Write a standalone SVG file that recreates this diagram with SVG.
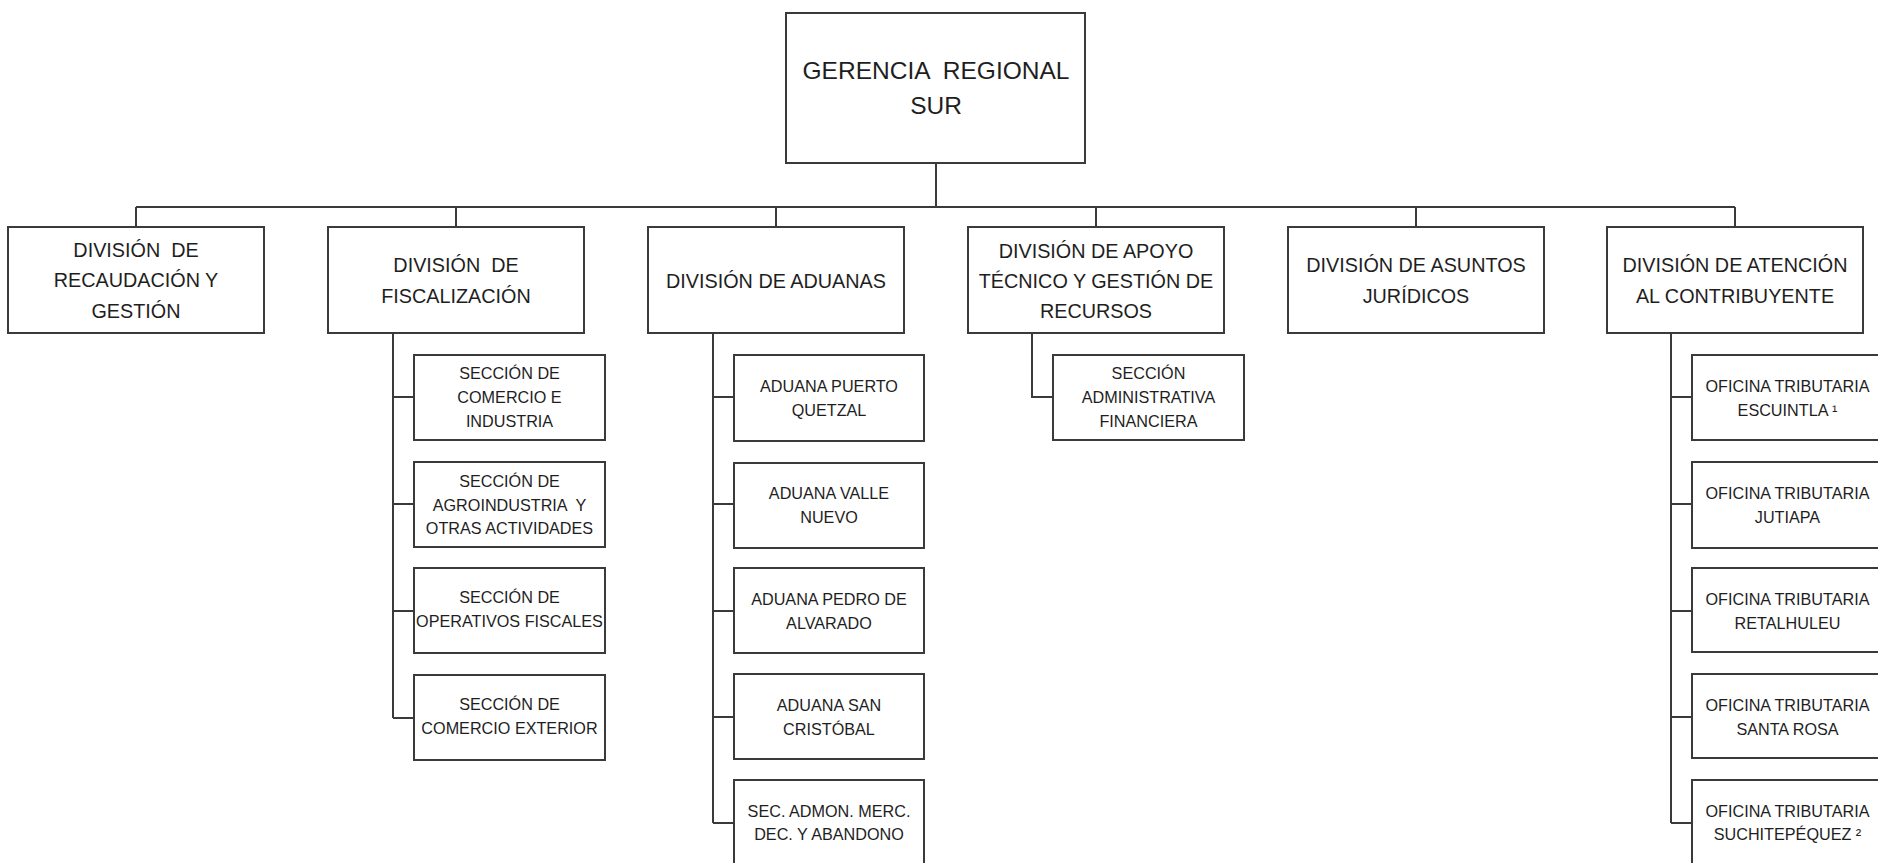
<svg xmlns="http://www.w3.org/2000/svg" width="1878" height="863" viewBox="0 0 1878 863">
<style>
  .box { fill: #ffffff; stroke: #3a3a3a; stroke-width: 2; }
  .ln { fill: none; stroke: #3a3a3a; stroke-width: 2; }
  text { font-family: "Liberation Sans", Arial, sans-serif; fill: #1e1e1e; text-anchor: middle; }
  .t0 { font-size: 24.5px; }
  .t1 { font-size: 19.8px; }
  .t2 { font-size: 16.2px; }
</style>
<rect x="0" y="0" width="1878" height="863" fill="#ffffff"/>

<g id="connectors">
  <path class="ln" d="M936 163 V207 M136 207 H1735 M136 207 V227 M456 207 V227 M776 207 V227 M1096 207 V227 M1416 207 V227 M1735 207 V227"/>
  <path class="ln" d="M393 333 V718 M393 397 H414 M393 504 H414 M393 611 H414 M393 718 H414"/>
  <path class="ln" d="M713 333 V823 M713 397 H734 M713 504 H734 M713 611 H734 M713 717 H734 M713 823 H734"/>
  <path class="ln" d="M1032 333 V397 H1053"/>
  <path class="ln" d="M1671 333 V823 M1671 397 H1692 M1671 504 H1692 M1671 611 H1692 M1671 717 H1692 M1671 823 H1692"/>
</g>

<g id="gerencia">
  <rect class="box" x="786" y="13" width="299" height="150"/>
  <text class="t0" x="936" y="79" xml:space="preserve">GERENCIA  REGIONAL</text>
  <text class="t0" x="936" y="114">SUR</text>
</g>

<g id="div-recaudacion">
  <rect class="box" x="8" y="227" width="256" height="106"/>
  <text class="t1" x="136" y="257" xml:space="preserve">DIVISIÓN  DE</text>
  <text class="t1" x="136" y="287">RECAUDACIÓN Y</text>
  <text class="t1" x="136" y="318">GESTIÓN</text>
</g>

<g id="div-fiscalizacion">
  <rect class="box" x="328" y="227" width="256" height="106"/>
  <text class="t1" x="456" y="272" xml:space="preserve">DIVISIÓN  DE</text>
  <text class="t1" x="456" y="303">FISCALIZACIÓN</text>
</g>

<g id="div-aduanas">
  <rect class="box" x="648" y="227" width="256" height="106"/>
  <text class="t1" x="776" y="288">DIVISIÓN DE ADUANAS</text>
</g>

<g id="div-apoyo">
  <rect class="box" x="968" y="227" width="256" height="106"/>
  <text class="t1" x="1096" y="258">DIVISIÓN DE APOYO</text>
  <text class="t1" x="1096" y="288">TÉCNICO Y GESTIÓN DE</text>
  <text class="t1" x="1096" y="318">RECURSOS</text>
</g>

<g id="div-juridicos">
  <rect class="box" x="1288" y="227" width="256" height="106"/>
  <text class="t1" x="1416" y="272">DIVISIÓN DE ASUNTOS</text>
  <text class="t1" x="1416" y="303">JURÍDICOS</text>
</g>

<g id="div-atencion">
  <rect class="box" x="1607" y="227" width="256" height="106"/>
  <text class="t1" x="1735" y="272">DIVISIÓN DE ATENCIÓN</text>
  <text class="t1" x="1735" y="303">AL CONTRIBUYENTE</text>
</g>

<g id="sec-comercio-industria">
  <rect class="box" x="414" y="355" width="191" height="85"/>
  <text class="t2" x="509.5" y="379">SECCIÓN DE</text>
  <text class="t2" x="509.5" y="403">COMERCIO E</text>
  <text class="t2" x="509.5" y="427">INDUSTRIA</text>
</g>
<g id="sec-agroindustria">
  <rect class="box" x="414" y="462" width="191" height="85"/>
  <text class="t2" x="509.5" y="487">SECCIÓN DE</text>
  <text class="t2" x="509.5" y="511" xml:space="preserve">AGROINDUSTRIA  Y</text>
  <text class="t2" x="509.5" y="534">OTRAS ACTIVIDADES</text>
</g>
<g id="sec-operativos">
  <rect class="box" x="414" y="568" width="191" height="85"/>
  <text class="t2" x="509.5" y="603">SECCIÓN DE</text>
  <text class="t2" x="509.5" y="627">OPERATIVOS FISCALES</text>
</g>
<g id="sec-comercio-exterior">
  <rect class="box" x="414" y="675" width="191" height="85"/>
  <text class="t2" x="509.5" y="710">SECCIÓN DE</text>
  <text class="t2" x="509.5" y="734">COMERCIO EXTERIOR</text>
</g>

<g id="aduana-puerto-quetzal">
  <rect class="box" x="734" y="355" width="190" height="86"/>
  <text class="t2" x="829" y="392">ADUANA PUERTO</text>
  <text class="t2" x="829" y="416">QUETZAL</text>
</g>
<g id="aduana-valle-nuevo">
  <rect class="box" x="734" y="463" width="190" height="85"/>
  <text class="t2" x="829" y="499">ADUANA VALLE</text>
  <text class="t2" x="829" y="523">NUEVO</text>
</g>
<g id="aduana-pedro-alvarado">
  <rect class="box" x="734" y="568" width="190" height="85"/>
  <text class="t2" x="829" y="605">ADUANA PEDRO DE</text>
  <text class="t2" x="829" y="629">ALVARADO</text>
</g>
<g id="aduana-san-cristobal">
  <rect class="box" x="734" y="674" width="190" height="85"/>
  <text class="t2" x="829" y="711">ADUANA SAN</text>
  <text class="t2" x="829" y="735">CRISTÓBAL</text>
</g>
<g id="sec-admon-merc">
  <rect class="box" x="734" y="780" width="190" height="95"/>
  <text class="t2" x="829" y="817">SEC. ADMON. MERC.</text>
  <text class="t2" x="829" y="840">DEC. Y ABANDONO</text>
</g>

<g id="sec-administrativa-financiera">
  <rect class="box" x="1053" y="355" width="191" height="85"/>
  <text class="t2" x="1148.5" y="379">SECCIÓN</text>
  <text class="t2" x="1148.5" y="403">ADMINISTRATIVA</text>
  <text class="t2" x="1148.5" y="427">FINANCIERA</text>
</g>

<g id="ot-escuintla">
  <rect class="box" x="1692" y="355" width="194" height="85"/>
  <text class="t2" x="1787.5" y="392">OFICINA TRIBUTARIA</text>
  <text class="t2" x="1787.5" y="416">ESCUINTLA ¹</text>
</g>
<g id="ot-jutiapa">
  <rect class="box" x="1692" y="462" width="194" height="86"/>
  <text class="t2" x="1787.5" y="499">OFICINA TRIBUTARIA</text>
  <text class="t2" x="1787.5" y="523">JUTIAPA</text>
</g>
<g id="ot-retalhuleu">
  <rect class="box" x="1692" y="568" width="194" height="84"/>
  <text class="t2" x="1787.5" y="605">OFICINA TRIBUTARIA</text>
  <text class="t2" x="1787.5" y="629">RETALHULEU</text>
</g>
<g id="ot-santa-rosa">
  <rect class="box" x="1692" y="674" width="194" height="84"/>
  <text class="t2" x="1787.5" y="711">OFICINA TRIBUTARIA</text>
  <text class="t2" x="1787.5" y="735">SANTA ROSA</text>
</g>
<g id="ot-suchitepequez">
  <rect class="box" x="1692" y="780" width="194" height="95"/>
  <text class="t2" x="1787.5" y="817">OFICINA TRIBUTARIA</text>
  <text class="t2" x="1787.5" y="840">SUCHITEPÉQUEZ ²</text>
</g>
</svg>
